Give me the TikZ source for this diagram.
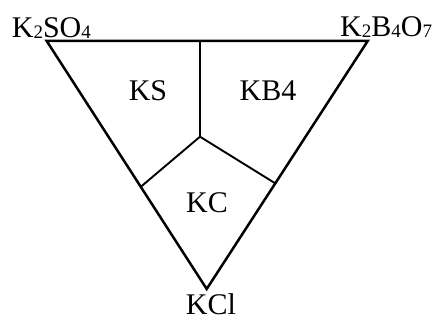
\documentclass[tikz,border=0pt]{standalone}
\usepackage{fontspec}
\setmainfont{Liberation Serif}
\usetikzlibrary{calc,positioning}
\newcommand{\chsub}[1]{\raisebox{-0.04em}{\fontsize{19}{19}\selectfont #1}}
\tikzstyle{edgeline}=[line width=2.5pt, line join=miter, color=black]
\tikzstyle{phaseline}=[line width=1.9pt, color=black]
\tikzstyle{vertexlabel}=[inner sep=0pt, font=\fontsize{30}{36}\selectfont]
\tikzstyle{fieldlabel}=[inner sep=0pt, font=\fontsize{30}{36}\selectfont]

\begin{document}
\begin{tikzpicture}[x=1pt,y=1pt]
        \useasboundingbox (0,0) rectangle (439,320);
        % Ecken des Dreiecks
        \coordinate (ks) at (46.7, 279);
        \coordinate (kb) at (367.7, 279);
        \coordinate (kc) at (206.7, 31);
        \coordinate (mid) at (200, 183.3);
        \coordinate (top) at ($(ks)!0.4776!(kb)$);
        \coordinate (left) at ($(ks)!0.588!(kc)$);
        \coordinate (right) at ($(kb)!0.574!(kc)$);

        \draw[edgeline] (ks) -- (kb) -- (kc) -- cycle;
        \draw[phaseline] (top) -- (mid);
        \draw[phaseline] (mid) -- (left);
        \draw[phaseline] (mid) -- (right);

        % Beschriftungen
        \node[vertexlabel, anchor=base west] (nks) at (11.7, 282.5) {K\chsub{2}SO\chsub{4}};
        \node[vertexlabel, anchor=base west] (nkb) at (340, 283.5) {K\chsub{2}B\chsub{4}O\chsub{7}};
        \node[vertexlabel, anchor=base] (nkc) at (211, 5) {KCl};

        \node[fieldlabel] (fks) at (148, 229) {KS};
        \node[fieldlabel] (fkb) at (268, 229) {KB4};
        \node[fieldlabel] (fkc) at (207, 117) {KC};
      \end{tikzpicture}
\end{document}
